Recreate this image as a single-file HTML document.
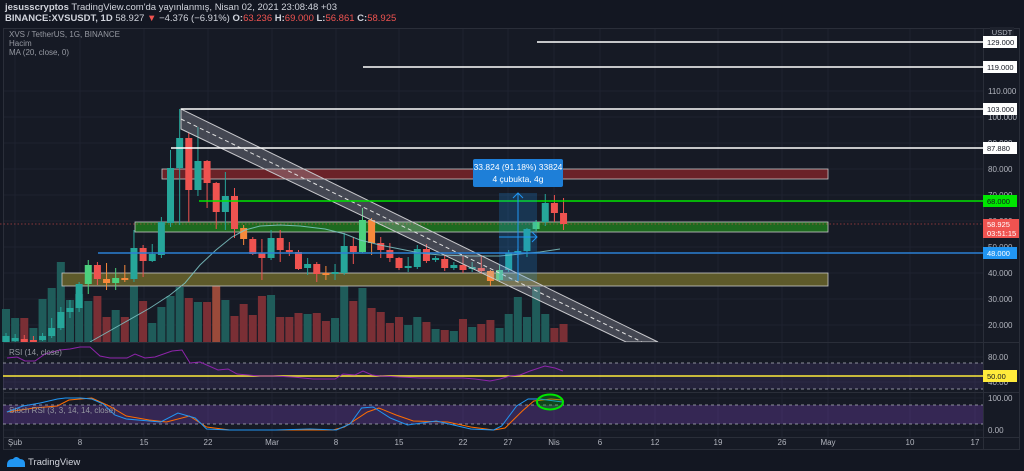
<!DOCTYPE html>
<html><head><meta charset="utf-8">
<style>
html,body{margin:0;padding:0;background:#131722;width:1024px;height:471px;overflow:hidden}
svg{display:block;font-family:"Liberation Sans",sans-serif}
</style></head>
<body>
<svg id="s" width="1024" height="471" viewBox="0 0 1024 471" xmlns="http://www.w3.org/2000/svg">
<rect x="0" y="0" width="1024" height="471" fill="#131722"/>
<rect x="3.5" y="28.5" width="1016" height="421" fill="#161a25" stroke="#2a2e39"/>
<g id="grid" stroke="#1e2230" stroke-width="1"></g>
<text x="5" y="10" font-size="9.5" fill="#d1d4dc"><tspan font-weight="bold">jesusscryptos</tspan> TradingView.com'da yayınlanmış, Nisan 02, 2021 23:08:48 +03</text>
<text x="5" y="21" font-size="9.5" fill="#d1d4dc" font-weight="bold">BINANCE:XVSUSDT, 1D <tspan font-weight="normal">58.927 </tspan><tspan fill="#ef5350">▼</tspan><tspan font-weight="normal"> −4.376 (−6.91%) </tspan>O:<tspan fill="#ef5350" font-weight="normal">63.236</tspan> H:<tspan fill="#ef5350" font-weight="normal">69.000</tspan> L:<tspan fill="#ef5350" font-weight="normal">56.861</tspan> C:<tspan fill="#ef5350" font-weight="normal">58.925</tspan></text>
<g font-size="8" fill="#9598a1">
<text x="9" y="37">XVS / TetherUS, 1G, BINANCE</text>
<text x="9" y="46">Hacim</text>
<text x="9" y="55">MA (20, close, 0)</text>
</g>
<g id="vol"></g>
<rect x="162" y="169" width="666" height="10" fill="#6b2228" stroke="#c8c8c8" stroke-width="0.8"/>
<rect x="135" y="222" width="693" height="10" fill="#1d6a1f" stroke="#c8c8c8" stroke-width="0.8"/>
<rect x="62" y="273" width="766" height="13" fill="#5e5a2a" stroke="#c8c8c8" stroke-width="0.8"/>
<line x1="0" y1="224" x2="983" y2="224" stroke="#ef5350" stroke-width="0.8" stroke-dasharray="1.5 2" opacity="0.7"/>
<g id="candles"></g>
<polyline fill="none" stroke="#7fc8c8" stroke-width="1" opacity="0.85" points="90,342 120,325 150,308 170,295 185,283 200,265 216,250 232,237 245,230 260,226 280,225 300,226 325,229 345,234 360,240 380,245 400,249 420,253 440,255 470,256 500,256 520,254 540,252 560,249"/>
<polygon points="181,109 181,129 626,342 658,342" fill="rgba(190,190,200,0.28)" stroke="#c8c8cc" stroke-width="1"/>
<line x1="181" y1="119" x2="642" y2="342" stroke="#e0e0e0" stroke-width="1" stroke-dasharray="4 3"/>
<g stroke-width="1.5">
<line x1="537" y1="42" x2="983" y2="42" stroke="#ffffff"/>
<line x1="363" y1="67" x2="983" y2="67" stroke="#ffffff"/>
<line x1="181" y1="109" x2="983" y2="109" stroke="#ffffff"/>
<line x1="171" y1="148" x2="983" y2="148" stroke="#ffffff"/>
<line x1="199" y1="201" x2="983" y2="201" stroke="#00e600"/>
<line x1="98" y1="253" x2="983" y2="253" stroke="#2a7fd4"/>
</g>
<rect x="499" y="193" width="38" height="88" fill="rgba(33,150,243,0.22)"/>
<line x1="518" y1="281" x2="518" y2="193" stroke="#2196f3" stroke-width="1"/>
<polyline points="513,198 518,193 523,198" fill="none" stroke="#2196f3"/>
<line x1="499" y1="237" x2="537" y2="237" stroke="#2196f3" stroke-width="1"/>
<polyline points="532,232 537,237 532,242" fill="none" stroke="#2196f3"/>
<rect x="473" y="159" width="90" height="28" rx="2" fill="#1e7fd8"/>
<text x="518" y="170" font-size="8.5" fill="#fff" text-anchor="middle">33.824 (91.18%) 33824</text>
<text x="518" y="182" font-size="8.5" fill="#fff" text-anchor="middle">4 çubukta, 4g</text>
<line x1="3" y1="342.5" x2="1019" y2="342.5" stroke="#2a2e39"/>
<line x1="3" y1="392.5" x2="1019" y2="392.5" stroke="#2a2e39"/>
<line x1="3" y1="437.5" x2="1019" y2="437.5" stroke="#2a2e39"/>
<line x1="983.5" y1="28" x2="983.5" y2="450" stroke="#2a2e39"/>
<rect x="3" y="363" width="980" height="26" fill="rgba(126,87,194,0.15)"/>
<line x1="3" y1="363" x2="983" y2="363" stroke="#b2b5be" stroke-dasharray="3 3" stroke-width="0.8"/>
<line x1="3" y1="389" x2="983" y2="389" stroke="#b2b5be" stroke-dasharray="3 3" stroke-width="0.8"/>
<line x1="3" y1="376" x2="983" y2="376" stroke="#ffeb3b" stroke-width="1.5"/>
<polyline id="rsi" fill="none" stroke="#8e24aa" stroke-width="1"/>
<text x="9" y="355" font-size="8" fill="#9598a1">RSI (14, close)</text>
<rect x="3" y="405" width="980" height="19" fill="rgba(126,70,194,0.3)"/>
<line x1="3" y1="405" x2="983" y2="405" stroke="#b2b5be" stroke-dasharray="3 3" stroke-width="0.8"/>
<line x1="3" y1="424" x2="983" y2="424" stroke="#b2b5be" stroke-dasharray="3 3" stroke-width="0.8"/>
<polyline id="sd" fill="none" stroke="#ff6d00" stroke-width="1"/>
<polyline id="sk" fill="none" stroke="#2196f3" stroke-width="1"/>
<text x="9" y="413" font-size="8" fill="#9598a1">Stoch RSI (3, 3, 14, 14, close)</text>
<ellipse cx="550" cy="402" rx="13" ry="7.5" fill="rgba(0,200,0,0.25)" stroke="#00e600" stroke-width="2"/>
<g id="ax" font-size="8" fill="#b2b5be"></g>
<rect x="990" y="27" width="24" height="10" fill="#1e222d"/>
<text x="1002" y="35" font-size="7.5" fill="#b2b5be" text-anchor="middle">USDT</text>
<g id="plabels" font-size="7.5"></g>
<g transform="translate(5,455)">
<path d="M2 10 Q2 4 8 4 Q11 0 15 4 Q20 4 20 9 L20 12 L2 12 Z" fill="#2196f3"/>
</g>
<text x="28" y="465" font-size="9.5" fill="#d1d4dc">TradingView</text>
</svg>
<script>
const NS="http://www.w3.org/2000/svg";
function el(p,t,a){const e=document.createElementNS(NS,t);for(const k in a)e.setAttribute(k,a[k]);p.appendChild(e);return e;}
const grid=document.getElementById('grid');
[15,80,144,208,272,336,399,463,508,554,600,655,718,782,828,910,975].forEach(x=>el(grid,'line',{x1:x,y1:29,x2:x,y2:437}));
[91,117,143,169,195,221,247,273,299,325,357,382,398,430].forEach(y=>el(grid,'line',{x1:4,y1:y,x2:983,y2:y}));
const C={g:'#26a69a',r:'#ef5350',lg:'#4cd07d',o:'#f7893b'};
const cd=[[336,342,333,343,'g'],[338,341,334,343,'g'],[339,342,335,343,'r'],[340,342,336,343,'r'],[336,340,333,341,'g'],[328,336,318,338,'g'],[312,328,307,330,'g'],[308,312,300,318,'g'],[284,308,282,312,'g'],[265,284,260,294,'lg'],[265,279,262,285,'r'],[279,283,263,290,'o'],[278,283,268,290,'lg'],[278,280,265,282,'o'],[248,279,230,282,'g'],[248,261,245,277,'r'],[254,261,244,262,'g'],[222,255,217,258,'g'],[168,223,150,227,'g'],[138,168,109,225,'g'],[138,190,133,222,'r'],[161,190,127,196,'g'],[161,183,160,208,'r'],[183,212,182,229,'r'],[196,212,172,230,'g'],[196,229,188,238,'r'],[228,239,225,245,'o'],[239,254,237,255,'r'],[253,258,239,280,'r'],[238,258,230,260,'g'],[238,250,230,262,'r'],[250,252,242,256,'r'],[252,269,250,270,'r'],[264,268,258,275,'g'],[264,274,262,282,'r'],[273,275,266,280,'o'],[272,274,264,280,'g'],[246,273,233,275,'g'],[246,252,237,264,'r'],[220,252,208,253,'lg'],[220,243,218,255,'o'],[243,250,237,258,'r'],[250,258,243,262,'r'],[258,268,257,270,'r'],[266,268,257,272,'g'],[249,267,245,269,'g'],[249,261,244,263,'r'],[258,260,256,262,'g'],[259,268,255,271,'r'],[265,268,262,270,'g'],[265,270,255,273,'r'],[267,269,262,272,'g'],[268,271,256,274,'r'],[271,281,270,286,'o'],[270,280,265,282,'lg'],[253,270,250,272,'g'],[251,253,249,258,'g'],[229,251,228,257,'g'],[222,229,220,231,'lg'],[203,222,194,226,'g'],[203,213,195,222,'r'],[213,224,198,230,'r']];
const vl=[[309,'g'],[318,'g'],[318,'r'],[328,'g'],[299,'g'],[288,'g'],[262,'g'],[300,'g'],[294,'g'],[301,'g'],[296,'r'],[317,'r'],[310,'g'],[317,'r'],[283,'g'],[301,'r'],[323,'g'],[307,'g'],[296,'g'],[287,'g'],[298,'r'],[302,'g'],[302,'r'],[278,'o'],[300,'g'],[316,'r'],[304,'r'],[315,'r'],[296,'r'],[295,'g'],[317,'r'],[317,'r'],[313,'r'],[314,'g'],[313,'r'],[321,'r'],[318,'g'],[285,'g'],[301,'r'],[288,'g'],[308,'r'],[312,'r'],[323,'r'],[317,'r'],[325,'g'],[317,'g'],[322,'r'],[329,'g'],[330,'r'],[331,'g'],[319,'r'],[327,'g'],[324,'r'],[320,'r'],[328,'g'],[314,'g'],[297,'g'],[317,'g'],[287,'g'],[314,'g'],[328,'r'],[324,'r']];
const VC={g:'#1f5c5a',r:'#7a2f35',o:'#9a4a3a'};
const vg=document.getElementById('vol'),cg=document.getElementById('candles');
vl.forEach((v,k)=>{const x=6+9.14*k;el(vg,'rect',{x:x-4,y:v[0],width:8,height:342-v[0],fill:VC[v[1]]});});
cd.forEach((c,k)=>{const x=6+9.14*k;const col=C[c[4]];el(cg,'line',{x1:x,y1:c[2],x2:x,y2:c[3],stroke:col,'stroke-width':1});el(cg,'rect',{x:x-3.5,y:c[0],width:7,height:Math.max(1.5,c[1]-c[0]),fill:col});});
function pts(a,sc){return a.map(p=>(p[0]*sc).toFixed(1)+','+p[1]).join(' ');}
document.getElementById('rsi').setAttribute('points',pts([[7,358],[17,357],[25,361],[35,361],[45,354],[60,350],[70,349],[80,347],[90,347],[100,356],[110,358],[127,358],[135,354],[145,358],[155,357],[172,351],[182,350],[190,363],[200,362],[218,370],[228,369],[237,374],[260,376],[273,376],[293,377],[313,379],[335,379],[343,374],[355,375],[363,371],[372,375],[380,376],[400,377],[420,378],[450,378],[463,378],[475,379],[490,381],[500,379],[510,376],[520,375],[530,371],[545,366],[555,368],[563,371]],1));
const sc=1.148;
document.getElementById('sk').setAttribute('points',pts([[6,412],[20,406],[35,403],[50,399],[57,398],[70,398],[80,399],[90,404],[100,415],[110,419],[120,420],[140,422],[155,413],[170,418],[180,429],[200,430],[240,430],[270,429],[293,430],[305,424],[315,408],[325,407],[340,418],[355,425],[380,421],[395,425],[410,429],[430,430],[437,426],[450,406],[460,399],[470,399],[490,402]],sc));
document.getElementById('sd').setAttribute('points',pts([[6,412],[30,408],[50,406],[60,400],[80,398],[95,406],[110,416],[130,420],[145,422],[165,416],[180,427],[200,430],[240,430],[290,430],[300,427],[320,412],[330,408],[345,415],[360,421],[390,422],[410,427],[430,430],[440,428],[455,411],[465,401],[480,399],[490,400]],sc));
const ax=document.getElementById('ax');
[['Şub',15],['8',80],['15',144],['22',208],['Mar',272],['8',336],['15',399],['22',463],['27',508],['Nis',554],['6',600],['12',655],['19',718],['26',782],['May',828],['10',910],['17',975]].forEach(l=>{const t=el(ax,'text',{x:l[1],y:445,'text-anchor':'middle'});t.textContent=l[0];});
[['110.000',94],['100.000',120],['90.000',146],['80.000',172],['70.000',198],['60.000',224],['50.000',250],['40.000',276],['30.000',302],['20.000',328],['80.00',360],['40.00',385],['100.00',401],['0.00',433]].forEach(l=>{const t=el(ax,'text',{x:988,y:l[1]});t.textContent=l[0];});
const pl=document.getElementById('plabels');
[['129.000',42,'#fff','#131722'],['119.000',67,'#fff','#131722'],['103.000',109,'#fff','#131722'],['87.880',148,'#fff','#131722'],['68.000',201,'#00e600','#131722'],['48.000',253,'#2196f3','#fff'],['50.00',376,'#ffeb3b','#131722']].forEach(l=>{el(pl,'rect',{x:983,y:l[1]-6,width:34,height:12,fill:l[2]});const t=el(pl,'text',{x:987,y:l[1]+3,fill:l[3]});t.textContent=l[0];});
el(pl,'rect',{x:983,y:219,width:36,height:19,fill:'#ef5350'});
let t=el(pl,'text',{x:987,y:227,fill:'#fff'});t.textContent='58.925';
t=el(pl,'text',{x:987,y:236,fill:'#fff'});t.textContent='03:51:15';
</script>
</body></html>
